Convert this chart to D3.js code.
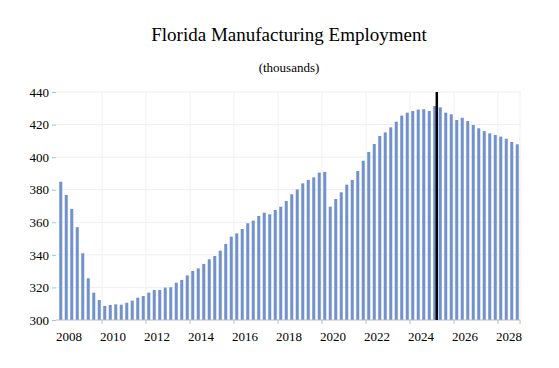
<!DOCTYPE html>
<html>
<head>
<meta charset="utf-8">
<script src="https://cdn.jsdelivr.net/npm/d3@7"></script>
<style>
	body { margin: 0; background: #fff; }
	svg { display: block; font-family: "Liberation Serif", "Times New Roman", serif; }
</style>
</head>
<body>
<div id="chart"></div>
<script>
// quarterly data, thousands of jobs
const YEARS = [2008, 2009, 2010, 2011, 2012, 2013, 2014, 2015, 2016, 2017, 2018,
	2019, 2020, 2021, 2022, 2023, 2024, 2025, 2026, 2027, 2028];
const QUARTERS = ["Q1", "Q2", "Q3", "Q4"];
const CATEGORIES = YEARS.flatMap(y => QUARTERS.map(q => y + q));

const EMPLOYMENT = [
	384.9, 376.8, 368.2, 357.0,
	341.0, 325.6, 316.8, 312.3,
	308.6, 309.2, 309.6, 309.4,
	310.6, 311.9, 313.7, 314.7,
	316.8, 318.4, 318.4, 319.9,
	320.1, 322.9, 324.6, 327.4,
	330.1, 331.7, 334.4, 337.3,
	339.3, 342.6, 346.7, 351.2,
	353.2, 355.9, 359.4, 361.0,
	363.9, 365.9, 364.9, 367.5,
	369.6, 373.1, 377.2, 380.2,
	383.9, 386.0, 387.6, 390.5,
	390.9, 369.6, 374.3, 378.4,
	383.1, 386.0, 391.5, 397.8,
	403.2, 408.1, 413.0, 415.2,
	418.3, 421.8, 425.5, 427.3,
	428.3, 429.2, 429.4, 428.3,
	431.4, 430.6, 427.3, 426.3,
	422.8, 424.2, 422.2, 419.7,
	417.7, 416.0, 414.6, 413.6,
	412.6, 411.3, 409.3, 407.9
];

const Y_TICKS = [300, 320, 340, 360, 380, 400, 420, 440];
const X_LABEL_YEARS = [2008, 2010, 2012, 2014, 2016, 2018, 2020, 2022, 2024, 2026, 2028];
const FORECAST_START = "2025Q2";

const WIDTH = 559, HEIGHT = 368;
const margins = { L: 58, R: 39, T: 92, B: 48 };

const svg = d3.select("#chart").append("svg")
	.attr("width", WIDTH)
	.attr("height", HEIGHT);

const x = d3.scaleBand()
	.domain(CATEGORIES)
	.range([margins.L, WIDTH - margins.R])
	.paddingInner(0.45)
	.paddingOuter(0.225);

const y = d3.scaleLinear()
	.domain([300, 440])
	.range([HEIGHT - margins.B, margins.T]);

const step = x.step();
const yearStart = yr => x(yr + "Q1") - step * x.paddingInner() / 2;
const yearMid = yr => (x(yr + "Q2") + x(yr + "Q3") + x.bandwidth()) / 2;

// title
svg.append("text")
	.attr("x", 289).attr("y", 41)
	.attr("text-anchor", "middle")
	.style("font-size", "19px")
	.text("Florida Manufacturing Employment");

svg.append("text")
	.attr("x", 289).attr("y", 72)
	.attr("text-anchor", "middle")
	.style("font-size", "13px")
	.text("(thousands)");

// gridlines
svg.append("g").selectAll("line")
	.data(Y_TICKS.slice(1))
	.enter().append("line")
	.attr("x1", margins.L - 2).attr("x2", WIDTH - margins.R + 1)
	.attr("y1", d => y(d)).attr("y2", d => y(d))
	.attr("stroke", "#efefef");

const gridYears = X_LABEL_YEARS.slice(1).concat([2029]);
svg.append("g").selectAll("line")
	.data(gridYears)
	.enter().append("line")
	.attr("x1", d => d === 2029 ? WIDTH - margins.R : yearStart(d))
	.attr("x2", d => d === 2029 ? WIDTH - margins.R : yearStart(d))
	.attr("y1", y(440)).attr("y2", y(300))
	.attr("stroke", "#efefef");

// bars
svg.append("g").selectAll("rect")
	.data(EMPLOYMENT)
	.enter().append("rect")
	.attr("x", (d, i) => x(CATEGORIES[i]))
	.attr("y", d => y(d))
	.attr("width", x.bandwidth())
	.attr("height", d => y(300) - y(d))
	.style("fill", "#7192cd");

// axes
const yAxis = d3.axisLeft(y).tickValues(Y_TICKS).tickSize(4).tickPadding(3);
svg.append("g")
	.attr("transform", "translate(" + (margins.L - 2) + ",0)")
	.call(yAxis)
	.call(g => g.select(".domain").remove())
	.call(g => g.selectAll("line").attr("stroke", "#bbb"))
	.call(g => g.selectAll("text").style("font-size", "13px").style("font-family", "Liberation Serif").attr("fill", "#000"));

svg.append("line")
	.attr("x1", margins.L - 2).attr("x2", WIDTH - margins.R)
	.attr("y1", y(300)).attr("y2", y(300))
	.attr("stroke", "#bbb");

svg.append("g").selectAll("line")
	.data(gridYears)
	.enter().append("line")
	.attr("x1", d => d === 2029 ? WIDTH - margins.R : yearStart(d))
	.attr("x2", d => d === 2029 ? WIDTH - margins.R : yearStart(d))
	.attr("y1", y(300)).attr("y2", y(300) + 4)
	.attr("stroke", "#bbb");

svg.append("g").selectAll("text")
	.data(X_LABEL_YEARS)
	.enter().append("text")
	.attr("x", d => yearMid(d))
	.attr("y", y(300) + 21)
	.attr("text-anchor", "middle")
	.style("font-size", "13px")
	.text(d => d);

// forecast marker
svg.append("line")
	.attr("x1", x(FORECAST_START) - step * 0.35)
	.attr("x2", x(FORECAST_START) - step * 0.35)
	.attr("y1", y(440)).attr("y2", y(300))
	.attr("stroke", "#000")
	.attr("stroke-width", 2.5);
</script>
</body>
</html>
